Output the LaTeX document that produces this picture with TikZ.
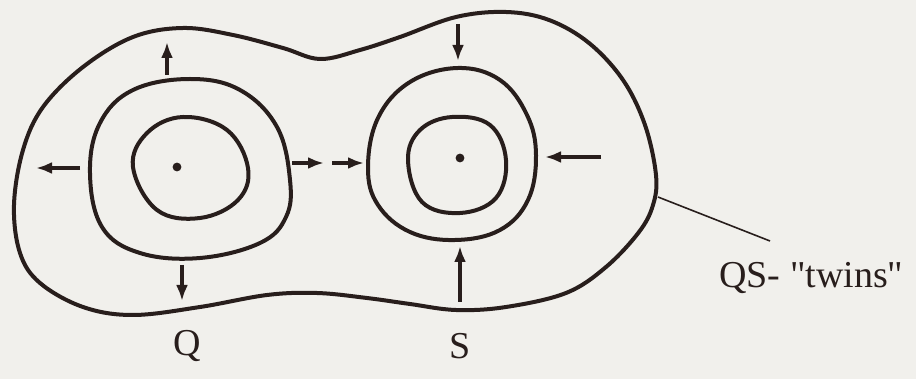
\documentclass[tikz,border=0pt]{standalone}
\usepackage{fontspec}
\setmainfont{Liberation Serif}[Ligatures=TeXOff]
\usetikzlibrary{arrows.meta}
\definecolor{bg}{RGB}{241,240,236}
\definecolor{ink}{RGB}{40,30,28}
\begin{document}
\begin{tikzpicture}[x=0.5pt,y=-0.5pt,
  contour/.style={draw=ink,line width=2pt,line join=round},
  flow/.style={draw=ink,line width=1.6pt,-{Latex[length=8pt,width=6pt]}},
  leader/.style={draw=ink,line width=0.8pt},
  lbl/.style={text=ink,font=\fontsize{19}{22}\selectfont,inner sep=0pt}]
\fill[bg] (0,0) rectangle (916,379);
\useasboundingbox (0,0) rectangle (916,379);
% outer boundary
\draw[contour] plot[smooth cycle,tension=0.6] coordinates {
 (14,205) (23,150) (43,107) (83,67) (133,37) (183,28) (233,35) (283,48)
 (320,59) (360,50) (400,37) (456,17) (506,12) (549,20) (589,43) (623,80)
 (645,125) (656,175) (653,205) (639,232) (606,267) (566,293) (506,307)
 (456,310) (410,304) (367,298) (317,293) (267,295) (200,307) (133,315)
 (83,307) (40,283) (20,253)};
% Q rings
\draw[contour] plot[smooth cycle,tension=0.65] coordinates {
 (90,173) (100,123) (133,90) (190,79) (240,90) (277,127) (290,180)
 (286,217) (260,243) (200,258) (140,253) (102,227)};
\draw[contour] plot[smooth cycle,tension=0.65] coordinates {
 (133,167) (147,133) (183,117) (227,130) (248,168) (238,200) (200,218) (157,210)};
% S rings
\draw[contour] plot[smooth cycle,tension=0.65] coordinates {
 (368,168) (378,118) (410,82) (458,68) (500,80) (527,115) (536,155)
 (528,200) (500,230) (455,240) (410,232) (378,205)};
\draw[contour] plot[smooth cycle,tension=0.65] coordinates {
 (408,160) (420,130) (452,117) (490,125) (506,160) (496,198) (460,213) (422,202)};
% centres
\coordinate (qc) at (177,167);
\coordinate (sc) at (460,158);
\fill[ink] (qc) circle[radius=2.2pt];
\fill[ink] (sc) circle[radius=2.2pt];
% Q arrows (outward)
\coordinate (qu0) at (167,75);  \coordinate (qu1) at (167,42);
\coordinate (ql0) at (80,168);  \coordinate (ql1) at (36,168);
\coordinate (qd0) at (182,265); \coordinate (qd1) at (182,301);
\coordinate (qr0) at (292,163); \coordinate (qr1) at (324,163);
\coordinate (qr2) at (332,163); \coordinate (qr3) at (364,163);
\draw[flow] (qu0) -- (qu1);
\draw[flow] (ql0) -- (ql1);
\draw[flow] (qd0) -- (qd1);
\draw[flow] (qr0) -- (qr1);
\draw[flow] (qr2) -- (qr3);
% S arrows (inward)
\coordinate (su0) at (458,24);  \coordinate (su1) at (458,61);
\coordinate (sr0) at (601,157); \coordinate (sr1) at (545,157);
\coordinate (sd0) at (460,302); \coordinate (sd1) at (460,246);
\draw[flow] (su0) -- (su1);
\draw[flow] (sr0) -- (sr1);
\draw[flow] (sd0) -- (sd1);
% labels
\node[lbl] (Q) at (187,346) {Q};
\node[lbl] (S) at (460,346) {S};
\node[lbl,anchor=west] (twins) at (719,278) {QS- "twins"};
\coordinate (b) at (658,197);
\coordinate (le) at (770,241);
\draw[leader] (b) -- (le);
\end{tikzpicture}
\end{document}
